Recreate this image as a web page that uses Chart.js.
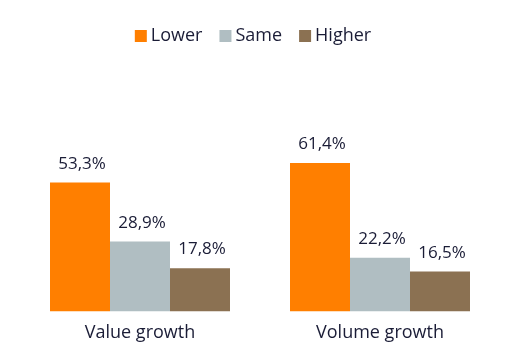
<!DOCTYPE html>
<html><head><meta charset="utf-8">
<script src="https://cdn.jsdelivr.net/npm/chart.js@4/dist/chart.umd.min.js"></script>
<style>html,body{margin:0;padding:0;background:#fff}#wrap{width:506px;height:352px}</style>
</head><body><div id="wrap"><canvas id="c" width="506" height="352"></canvas></div>
<script>
const categories = ["Value growth", "Volume growth"];
const lower = [53.3, 61.4];
const same = [28.9, 22.2];
const higher = [17.8, 16.5];
const seriesNames = ["Lower", "Same", "Higher"];
const colors = ["#FF7F00", "#B0BEC2", "#8B7152"];
const FONT = "'Open Sans', Lato, sans-serif";
const TXT = "#1a1c36";

const labelPlugin = {
  id: 'vals',
  afterDatasetsDraw(chart) {
    const ctx = chart.ctx;
    ctx.save();
    ctx.font = "17px " + FONT;
    ctx.fillStyle = TXT;
    ctx.textAlign = "center";
    ctx.textBaseline = "alphabetic";
    chart.data.datasets.forEach((ds, i) => {
      chart.getDatasetMeta(i).data.forEach((bar, j) => {
        ctx.fillText(ds.data[j].toFixed(1).replace('.', ',') + '%', bar.x + 2, bar.y - 14);
      });
    });
    ctx.restore();
  }
};

const legendPlugin = {
  id: 'customLegend',
  afterDraw(chart) {
    const ctx = chart.ctx;
    ctx.save();
    ctx.font = "18px " + FONT;
    ctx.textBaseline = "alphabetic";
    ctx.textAlign = "left";
    const box = 12, gapBT = 4, gapItem = 17;
    const items = chart.data.datasets.map(ds => ({ t: ds.label, c: ds.backgroundColor, w: ctx.measureText(ds.label).width }));
    const total = items.reduce((s, it) => s + box + gapBT + it.w, 0) + gapItem * (items.length - 1);
    let x = (chart.width - total) / 2;
    const baseY = 41;
    items.forEach(it => {
      ctx.fillStyle = it.c;
      ctx.fillRect(x, baseY - 11, box, box);
      ctx.fillStyle = TXT;
      ctx.fillText(it.t, x + box + gapBT, baseY);
      x += box + gapBT + it.w + gapItem;
    });
    ctx.restore();
  }
};

new Chart(document.getElementById('c'), {
  type: 'bar',
  data: {
    labels: categories,
    datasets: [lower, same, higher].map((d, i) => ({
      label: seriesNames[i], data: d, backgroundColor: colors[i],
      categoryPercentage: 0.75, barPercentage: 1.0, borderWidth: 0
    }))
  },
  options: {
    responsive: false, animation: false,
    layout: { padding: { left: 20, right: 6, top: 60, bottom: 5 } },
    plugins: {
      legend: { display: false },
      tooltip: { enabled: false }
    },
    scales: {
      x: { grid: { display: false }, border: { display: false },
           ticks: { font: { size: 18, family: FONT }, color: TXT, padding: 3 } },
      y: { display: false, min: 0, max: 104 }
    }
  },
  plugins: [labelPlugin, legendPlugin]
});
</script></body></html>
